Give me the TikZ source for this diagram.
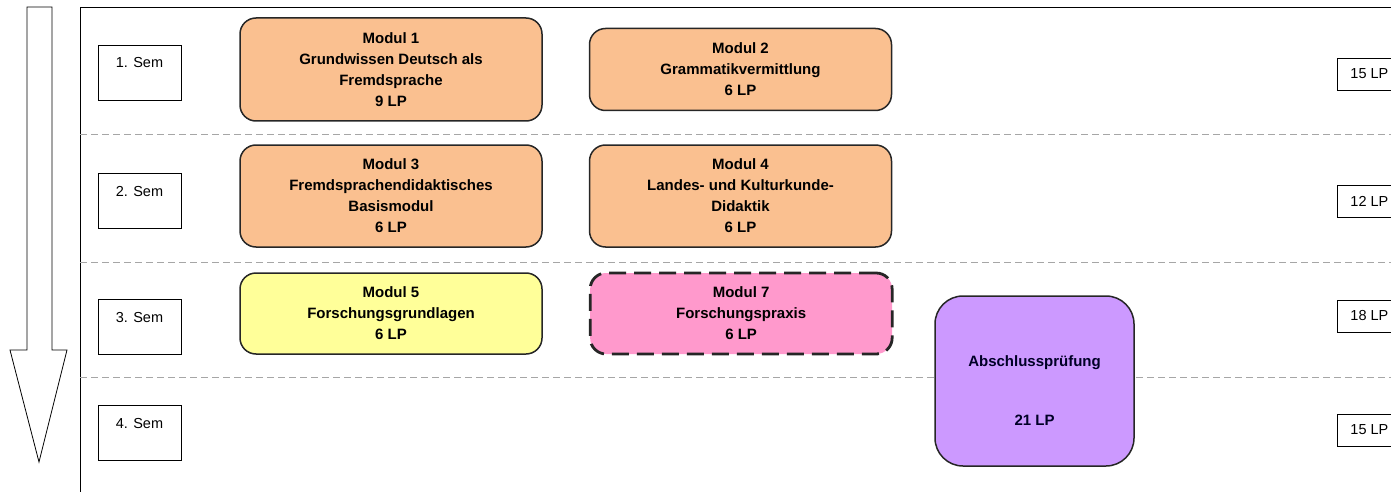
\documentclass[tikz,border=0pt]{standalone}
\usepackage{fontspec}
\setmainfont{Liberation Sans}
\usetikzlibrary{positioning}
\definecolor{modorange}{RGB}{250,192,144}
\definecolor{modgelb}{RGB}{255,255,153}
\definecolor{modrosa}{RGB}{255,153,204}
\definecolor{modlila}{RGB}{204,153,255}

\begin{document}
\begin{tikzpicture}[x=1pt,y=-1pt,
  modul/.style={draw=black!85,line width=1.5pt,rounded corners=16pt,minimum width=302pt,
    align=center,font=\bfseries\fontsize{15}{21}\selectfont},
  sem/.style={draw,line width=0.8pt,minimum width=83pt,inner ysep=4pt,
    text height=19pt,text depth=28pt,font=\fontsize{14.5}{16}\selectfont},
  lp/.style={draw,line width=0.8pt,anchor=west,minimum width=64pt,minimum height=32pt,
    font=\fontsize{14.5}{16}\selectfont}]
\tikzstyle{trenner}=[gray!70,dash pattern=on 7pt off 4pt,line width=0.8pt]
\useasboundingbox (0,0) rectangle (1391,492);
\clip (0,0) rectangle (1391,492);

% zeitpfeil und rahmen
\draw[line width=0.8pt,fill=white] (27,7) -- (52,7) -- (52,350) -- (67,350) -- (39,462)
  -- (10,350) -- (27,350) -- cycle;
\draw[line width=0.8pt] (1400,7) -- (80,7) -- (80,500);
\foreach \y in {134,262,377}
  \draw[trenner] (80,\y) -- (1400,\y);

% semester
\node[sem] (s1) at (139.5,72.5) {1. Sem};
\node[sem] (s2) at (139.5,200.5) {2. Sem};
\node[sem] (s3) at (139.5,327) {3. Sem};
\node[sem] (s4) at (139.5,433) {4. Sem};

% module
\node[modul,fill=modorange,minimum height=103pt] (m1) at (391,69.5)
  {Modul 1\\Grundwissen Deutsch als\\Fremdsprache\\9 LP};
\node[modul,fill=modorange,minimum height=82pt,right=46pt of m1] (m2)
  {Modul 2\\Grammatikvermittlung\\6 LP};
\node[modul,fill=modorange,minimum height=102pt] (m3) at (391,196)
  {Modul 3\\Fremdsprachendidaktisches\\Basismodul\\6 LP};
\node[modul,fill=modorange,minimum height=102pt,right=46pt of m3] (m4)
  {Modul 4\\Landes- und Kulturkunde-\\Didaktik\\6 LP};
\node[modul,fill=modgelb,minimum height=81pt] (m5) at (391,313.5)
  {Modul 5\\Forschungsgrundlagen\\6 LP};
\node[modul,fill=modrosa,minimum height=81pt,line width=2.8pt,
  dash pattern=on 17pt off 8pt,right=46pt of m5] (m7)
  {Modul 7\\Forschungspraxis\\6 LP};
\node[modul,fill=modlila,minimum width=199pt,minimum height=170pt,
  rounded corners=28pt,text=black!85!blue] (ap) at (1034.5,381)
  {\mbox{}\\[9pt]Abschlussprüfung\\[38pt]21 LP};

% leistungspunkte
\node[lp] (lp1) at (1337,74) {15 LP};
\node[lp] (lp2) at (1337,201) {12 LP};
\node[lp] (lp3) at (1337,316) {18 LP};
\node[lp] (lp4) at (1337,430) {15 LP};
\end{tikzpicture}
\end{document}
